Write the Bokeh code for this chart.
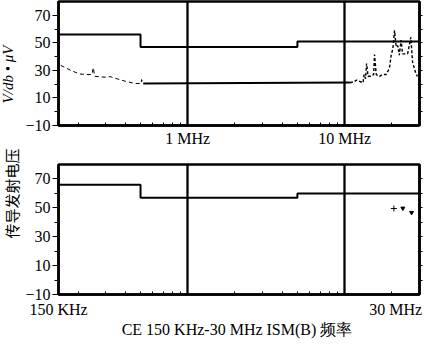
import numpy as np
from bokeh.plotting import figure
from bokeh.models import Range1d, FixedTicker, LinearAxis
from bokeh.layouts import row, column
from bokeh.embed import file_html
from bokeh.resources import INLINE
from bokeh.core.properties import value

# ---------------- data ----------------
y_major = [-10, 10, 30, 50, 70]
y_minor = [0, 20, 40, 60]
y_right = [0, 10, 20, 30, 40, 50, 60, 70]
x_grid = [1, 10]
x_minor = [0.2, 0.3, 0.4, 0.5, 0.6, 0.7, 0.8, 0.9, 2, 3, 4, 5, 6, 7, 8, 9, 20]

limit_f = [0.15, 0.5, 0.5, 5, 5, 30]
av_limit = [56, 56, 47, 47, 51, 51]
qp_limit = [66, 66, 57, 57, 60, 60]

low_f = [0.155, 0.18, 0.204, 0.225, 0.245, 0.25, 0.255, 0.30, 0.32, 0.34, 0.403, 0.46, 0.505, 0.508, 0.52]
low_v = [33.6, 30, 27.4, 27, 27, 32, 25.7, 25, 25.5, 24.5, 22, 20.5, 20.5, 23.3, 20.5]

floor_f = [0.52, 10.8]
floor_v = [20.5, 21.2]

high_f = [10.8, 11.6, 11.9, 13.1, 13.3, 13.6, 13.8, 14.1, 14.8, 15.3, 15.5, 15.9, 16.7, 17.5, 18.4,
          19.3, 19.8, 20.3, 20.8, 21.3, 21.8, 22.3, 22.9, 23.4, 24.0, 25.2, 26.4, 27.1, 28.4, 29.1]
high_v = [21, 22, 23, 21, 27, 24, 35, 25.7, 25.7, 27, 41.5, 27, 25.7, 27, 27,
          31.6, 41, 46, 59, 47, 48, 41, 52, 42, 42, 42, 54, 36, 28, 25.7]

qp_plus_f = [20.6]
qp_plus_v = [49.5]
qp_tri_f = [23.5, 26.7]
qp_tri_v = [49.7, 46.7]

top_xlabels = {1: "1 MHz", 10: "10 MHz"}
x_start_label = "150 KHz"
x_end_label = "30 MHz"
x_title = "CE 150 KHz-30 MHz  ISM(B) 频率"
y_title_top = "V/db • μV"
y_title_bottom = "传导发射电压"

FONT = "Liberation Serif"
X_MIN, X_MAX = 0.15, 30


def make_fig(height, top, bottom):
    p = figure(width=407, height=height, x_axis_type="log",
               x_range=Range1d(X_MIN, X_MAX), y_range=Range1d(-10, 80),
               output_backend="svg", toolbar_location=None,
               min_border_left=32, min_border_right=10,
               min_border_top=top, min_border_bottom=bottom)
    p.outline_line_color = "black"
    p.outline_line_width = 2.5
    p.outline_line_alpha = 1
    p.background_fill_color = "white"
    p.border_fill_color = "white"
    # y axis
    ya = p.yaxis[0]
    ya.ticker = FixedTicker(ticks=y_major, minor_ticks=y_minor)
    ya.major_tick_out = 6
    ya.major_tick_in = 0
    ya.minor_tick_out = 4
    ya.minor_tick_in = 0
    ya.major_label_standoff = 2
    ya.axis_line_width = 2.5
    ya.major_label_text_font = FONT
    ya.major_label_text_font_size = "16px"
    ya.major_label_text_color = "black"
    # right axis: unlabeled outward ticks only
    ra = LinearAxis(ticker=FixedTicker(ticks=[], minor_ticks=y_right),
                    major_tick_out=0, major_tick_in=0,
                    minor_tick_out=3, minor_tick_in=0, axis_line_width=2.5,
                    minor_tick_line_color="black")
    p.add_layout(ra, "right")
    # grids
    p.ygrid.visible = False
    p.xgrid.ticker = FixedTicker(ticks=x_grid)
    p.xgrid.grid_line_color = "black"
    p.xgrid.grid_line_width = 2.3
    p.xgrid.grid_line_alpha = 1
    # x axis
    xa = p.xaxis[0]
    xa.major_tick_out = 0
    xa.major_tick_in = 0
    xa.minor_tick_in = 3
    xa.minor_tick_out = 0
    xa.axis_line_width = 2.5
    xa.major_label_text_font = FONT
    xa.major_label_text_font_size = "16px"
    xa.major_label_text_color = "black"
    return p


# ---------------- top plot ----------------
top = make_fig(149, 1, 22)
top.xaxis[0].ticker = FixedTicker(ticks=list(top_xlabels.keys()), minor_ticks=x_minor)
top.xaxis[0].major_label_overrides = top_xlabels
top.xaxis[0].major_label_standoff = 4
top.line(limit_f, av_limit, line_color="black", line_width=2)
top.line(low_f, low_v, line_color="black", line_width=1, line_dash="4 3")
top.line(floor_f, floor_v, line_color="black", line_width=2)
top.line(high_f, high_v, line_color="black", line_width=1.4, line_dash="3 2")

# ---------------- bottom plot ----------------
bot = make_fig(191, 15, 46)
# the end label is drawn right-aligned inside the plot width (its centre sits
# about one text half-width left of the 30 MHz edge, i.e. 24 px at 365 px/2.3 decades)
end_pos = X_MAX / 10 ** (24 * np.log10(X_MAX / X_MIN) / 365)
bot.xaxis[0].ticker = FixedTicker(ticks=[X_MIN, end_pos], minor_ticks=x_minor)
bot.xaxis[0].major_label_overrides = {X_MIN: x_start_label, end_pos: x_end_label}
bot.xaxis[0].major_label_standoff = 6
bot.xaxis[0].axis_label = x_title
bot.xaxis[0].axis_label_text_font = FONT
bot.xaxis[0].axis_label_text_font_style = "normal"
bot.xaxis[0].axis_label_text_font_size = "16px"
bot.xaxis[0].axis_label_text_color = "black"
bot.xaxis[0].axis_label_standoff = 0
bot.line(limit_f, qp_limit, line_color="black", line_width=2)
bot.scatter(qp_plus_f, qp_plus_v, marker="cross", size=6, line_color="black", line_width=1)
bot.scatter(qp_tri_f, qp_tri_v, marker="inverted_triangle", size=4, line_color="black",
            fill_color="black")

# ---------------- y titles ----------------
lab = figure(width=22, height=340, x_range=Range1d(0, 22), y_range=Range1d(0, 340),
             output_backend="svg", toolbar_location=None, min_border=0,
             x_axis_location=None, y_axis_location=None)
lab.grid.visible = False
lab.outline_line_color = None
lab.text(x=[7.5], y=[266], text=[y_title_top], angle=np.pi / 2, text_align="center",
         text_baseline="middle", text_font=value(FONT), text_font_style="italic",
         text_font_size="15px", text_color="black")
lab.text(x=[11], y=[147], text=[y_title_bottom], angle=np.pi / 2, text_align="center",
         text_baseline="middle", text_font=value("Noto Sans CJK SC"),
         text_font_size="15px", text_color="black")

layout = row(lab, column(top, bot, spacing=0), spacing=0)

open("out.html", "w").write(file_html(layout, INLINE))
